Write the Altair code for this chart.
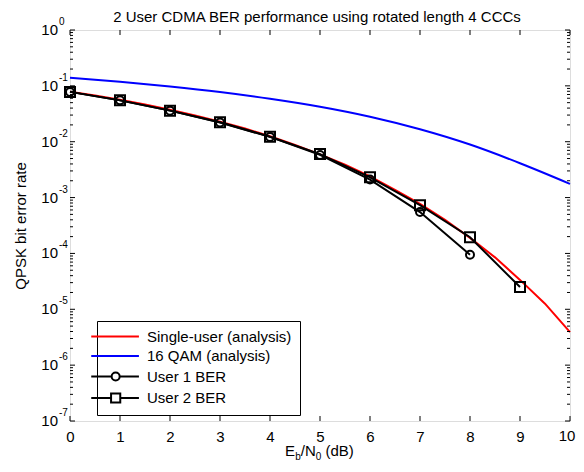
import altair as alt
import pandas as pd

FONT = "Liberation Sans"
TITLE = "2 User CDMA BER performance using rotated length 4 CCCs"
Y_TITLE = "QPSK bit error rate"

# Single-user analytic curve
su_x = [0, 0.5, 1, 1.5, 2, 2.5, 3, 3.5, 4, 4.5, 5, 5.5, 6, 6.5, 7, 7.5, 8, 8.5, 9, 9.5, 10]
su_y = [0.0786, 0.0671, 0.0563, 0.0464, 0.0375, 0.0296, 0.0229, 0.0172, 0.0125, 0.00877,
        0.00595, 0.00389, 0.00239, 0.00137, 0.00077, 0.000399, 0.00019, 0.000085,
        0.0000336, 0.0000126, 0.0000039]

# 16 QAM analytic curve (blue line)
qam_x = [0, 1, 2, 3, 4, 5, 6, 7, 8, 9, 10]
qam_y = [0.139, 0.118, 0.0974, 0.0776, 0.0587, 0.0423, 0.0280, 0.0167, 0.00889, 0.00412, 0.00176]

# Simulated BER, user 1 (circles) and user 2 (squares)
u1_x = [0, 1, 2, 3, 4, 5, 6, 7, 8]
u1_y = [0.078, 0.055, 0.036, 0.022, 0.0122, 0.0058, 0.0021, 0.00055, 0.000095]
u2_x = [0, 1, 2, 3, 4, 5, 6, 7, 8, 9]
u2_y = [0.078, 0.055, 0.036, 0.0223, 0.0123, 0.0060, 0.0023, 0.00073, 0.000195, 0.000025]

legend_labels = ["Single-user (analysis)", "16 QAM (analysis)", "User 1 BER", "User 2 BER"]
legend_colors = ["#ff0000", "#0000ff", "#000000", "#000000"]
legend_shapes = [
    "M-3.7,0L4.6,0",
    "M-3.7,0L4.6,0",
    "M-3.7,0L-0.15,0M1.25,0L4.6,0M-0.15,0A0.7,0.7,0,1,0,1.25,0A0.7,0.7,0,1,0,-0.15,0",
    "M-3.7,0L-0.25,0M1.35,0L4.6,0M-0.25,-0.8L1.35,-0.8L1.35,0.8L-0.25,0.8Z",
]

x_ticks = [0, 1, 2, 3, 4, 5, 6, 7, 8, 9, 10]
y_decades = [-7, -6, -5, -4, -3, -2, -1, 0]
minor_mult = [2, 3, 4, 5, 6, 7, 8, 9]

W, H = 500, 391

xs = alt.Scale(domain=[0, 10], nice=False, zero=False)
ys = alt.Scale(type="log", domain=[1e-7, 1], nice=False)
x_axis = alt.Axis(values=x_ticks, ticks=False, domain=False, grid=False, title=None,
                  labelFont=FONT, labelFontSize=15, labelColor="black", labelPadding=8,
                  labelFlush=False, labelExpr="datum.value == 10 ? '' : datum.label")
y_axis = alt.Axis(labels=False, ticks=False, domain=False, grid=False, title=Y_TITLE,
                  titleFont=FONT, titleFontSize=15, titleFontWeight="normal",
                  titleColor="black", titlePadding=42)

X = alt.X("x:Q", scale=xs, axis=x_axis)
Y = alt.Y("y:Q", scale=ys, axis=y_axis)

su_df = pd.DataFrame({"x": su_x, "y": su_y})
qam_df = pd.DataFrame({"x": qam_x, "y": qam_y})
u1_df = pd.DataFrame({"x": u1_x, "y": u1_y})
u2_df = pd.DataFrame({"x": u2_x, "y": u2_y})

red = alt.Chart(su_df).mark_line(color="#ff0000", strokeWidth=2).encode(x=X, y=Y)
blue = alt.Chart(qam_df).mark_line(color="#0000ff", strokeWidth=2, interpolate="monotone").encode(x=X, y=Y)
u1_line = alt.Chart(u1_df).mark_line(color="black", strokeWidth=2).encode(x=X, y=Y)
u1_pts = alt.Chart(u1_df).mark_point(shape="circle", size=64, filled=False, color="black",
                                     strokeWidth=2, opacity=1).encode(x=X, y=Y)
u2_line = alt.Chart(u2_df).mark_line(color="black", strokeWidth=2).encode(x=X, y=Y)
u2_pts = alt.Chart(u2_df).mark_point(shape="square", size=100, filled=False, color="black",
                                     strokeWidth=2, opacity=1).encode(x=X, y=Y)

# axis ticks (MATLAB style, inside, on all four sides)
xt_df = pd.DataFrame({"x": x_ticks})
xt_bot = alt.Chart(xt_df).mark_rule(color="black", strokeWidth=1).encode(
    x=X, y=alt.value(H), y2=alt.value(H - 5))
xt_top = alt.Chart(xt_df).mark_rule(color="black", strokeWidth=1).encode(
    x=X, y=alt.value(0), y2=alt.value(5))

major_df = pd.DataFrame({"y": [10.0 ** d for d in y_decades]})
minor_df = pd.DataFrame({"y": [m * 10.0 ** d for d in y_decades[:-1] for m in minor_mult]})
yt_l = alt.Chart(major_df).mark_rule(color="black", strokeWidth=1).encode(
    y=Y, x=alt.value(0), x2=alt.value(5))
yt_r = alt.Chart(major_df).mark_rule(color="black", strokeWidth=1).encode(
    y=Y, x=alt.value(W - 5), x2=alt.value(W))
ym_l = alt.Chart(minor_df).mark_rule(color="black", strokeWidth=1).encode(
    y=Y, x=alt.value(0), x2=alt.value(3))
ym_r = alt.Chart(minor_df).mark_rule(color="black", strokeWidth=1).encode(
    y=Y, x=alt.value(W - 3), x2=alt.value(W))

# last x tick label, nudged so it stays on the page
last_df = pd.DataFrame({"x": [x_ticks[-1]], "t": [str(x_ticks[-1])]})
last_lab = alt.Chart(last_df).mark_text(font=FONT, fontSize=15, align="center",
                                        baseline="top", color="black", dx=-3).encode(
    x=X, y=alt.value(H + 8), text="t:N")

# y tick labels 10^n
ylab_df = pd.DataFrame({"y": [10.0 ** d for d in y_decades],
                        "base": ["10"] * len(y_decades),
                        "exp": [str(d) for d in y_decades]})
ylab_base = alt.Chart(ylab_df).mark_text(font=FONT, fontSize=15, align="right",
                                         baseline="middle", color="black").encode(
    y=Y, x=alt.value(-12), text="base:N")
ylab_exp = alt.Chart(ylab_df).mark_text(font=FONT, fontSize=10, align="left",
                                        baseline="middle", color="black", dy=-8).encode(
    y=Y, x=alt.value(-11), text="exp:N")

one = pd.DataFrame({"k": [0]})

def piece(txt, px, py, size, align="left"):
    return alt.Chart(one).mark_text(text=txt, font=FONT, fontSize=size, align=align,
                                    baseline="alphabetic", color="black").encode(
        x=alt.value(px), y=alt.value(py))

# chart title
title_mark = piece(TITLE, W / 2 - 3, -8, 15, align="center")

# x-axis title  E_b/N_0 (dB)
xt0 = 215
xtitle = [
    piece("E", xt0, 426, 15),
    piece("b", xt0 + 10.2, 430, 10),
    piece("/N", xt0 + 15.8, 426, 15),
    piece("0", xt0 + 30.8, 430, 10),
    piece("(dB)", xt0 + 40.5, 426, 15),
]

# legend (native legend, layer draws nothing)
leg_df = pd.DataFrame({"x": [0] * 4, "y": [1e-3] * 4, "series": legend_labels})
legend_layer = alt.Chart(leg_df).transform_filter("datum.x > 100").mark_point(
    filled=False, strokeWidth=2, opacity=1).encode(
    x=X, y=Y,
    color=alt.Color("series:N", scale=alt.Scale(domain=legend_labels, range=legend_colors),
                    legend=alt.Legend(orient="none", legendX=27, legendY=291, title=None,
                                      labelFont=FONT, labelFontSize=15, labelColor="black",
                                      symbolSize=132, symbolStrokeWidth=2,
                                      labelOffset=27, rowPadding=3.5, padding=8,
                                      strokeColor="black", fillColor="white",
                                      symbolFillColor="transparent")),
    shape=alt.Shape("series:N", scale=alt.Scale(domain=legend_labels, range=legend_shapes)),
)

chart = alt.layer(
    red, blue, u1_line, u1_pts, u2_line, u2_pts,
    xt_bot, xt_top, yt_l, yt_r, ym_l, ym_r,
    last_lab, ylab_base, ylab_exp, title_mark, *xtitle, legend_layer,
).properties(
    width=W, height=H,
    autosize=alt.AutoSizeParams(type="none"),
    padding={"left": 62, "top": 22, "right": 6, "bottom": 43},
).configure_view(stroke="black", strokeWidth=1).configure(background="white")

chart.save("out.html", embed_options={"renderer": "svg", "actions": False})
